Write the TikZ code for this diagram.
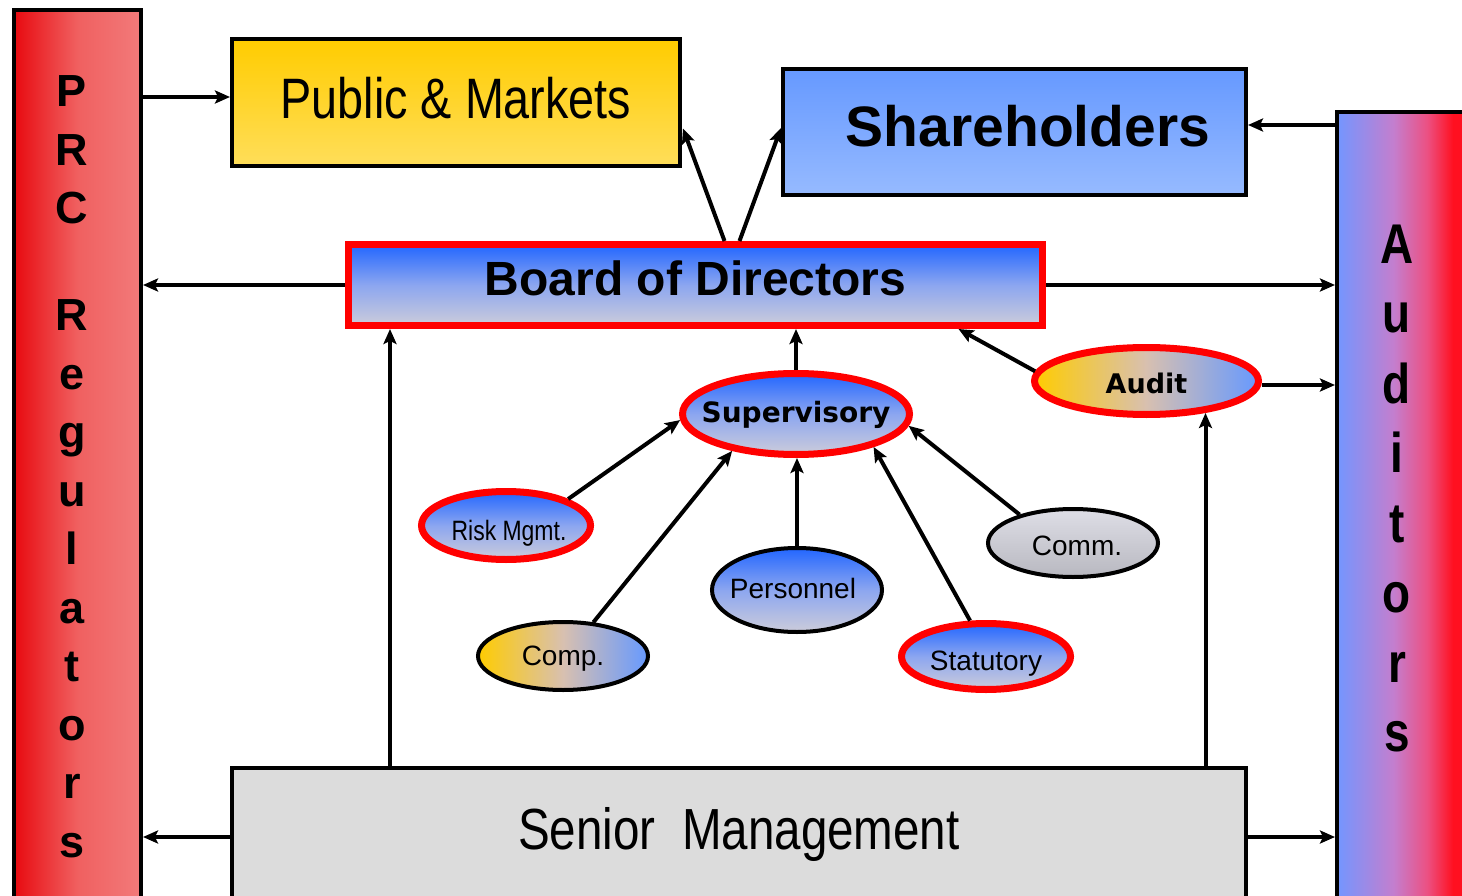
\documentclass[tikz,border=0pt]{standalone}
\usepackage{fontspec}
\setmainfont{Liberation Sans}
\newfontfamily\narrowfont{Liberation Sans}[FakeStretch=0.82]
\newfontfamily\heavyfont{DejaVu Sans}
\usetikzlibrary{shapes.geometric,arrows.meta,calc}

% palette
\definecolor{rim}{RGB}{255,0,0}
\definecolor{prcL}{RGB}{232,10,16}
\definecolor{prcM}{RGB}{240,96,96}
\definecolor{prcR}{RGB}{242,122,122}
\definecolor{pubT}{RGB}{255,204,0}
\definecolor{pubB}{RGB}{255,222,90}
\definecolor{shT}{RGB}{102,153,255}
\definecolor{shB}{RGB}{150,186,255}
\definecolor{audL}{RGB}{115,150,255}
\definecolor{audM}{RGB}{196,126,206}
\definecolor{audP}{RGB}{236,80,130}
\definecolor{audR}{RGB}{255,16,32}
\definecolor{bdT}{RGB}{34,102,255}
\definecolor{bdM}{RGB}{140,166,240}
\definecolor{bdB}{RGB}{204,204,218}
\definecolor{ylw}{RGB}{255,204,0}
\definecolor{mixM}{RGB}{216,192,176}
\definecolor{blu}{RGB}{102,153,255}
\definecolor{cmT}{RGB}{222,222,230}
\definecolor{cmB}{RGB}{184,184,192}
\definecolor{snr}{RGB}{220,220,220}

% blue-to-red band of the auditors column (25bp..75bp spans the shape)
\pgfdeclarehorizontalshading{audband}{100bp}{%
  color(0bp)=(audL); color(25bp)=(audL); color(47bp)=(audM);
  color(60bp)=(audP); color(70bp)=(audR); color(100bp)=(audR)}

% zero-width label so the ellipse keeps its given size
\newcommand\ovtext[1]{\makebox[0pt]{#1}}

\begin{document}
\begin{tikzpicture}[x=1pt,y=-1pt,
  box/.style={rectangle,draw=black,line width=4pt,inner sep=0pt},
  rimbox/.style={rectangle,draw=rim,line width=7pt,inner sep=0pt},
  oval/.style={ellipse,draw=black,line width=4pt,inner sep=0pt,text depth=0pt},
  rimoval/.style={ellipse,draw=rim,line width=7pt,inner sep=0pt,text depth=0pt},
  blueshade/.style={top color=bdT,bottom color=bdB,middle color=bdM},
  mixshade/.style={left color=ylw,right color=blu,middle color=mixM},
  ovfont/.style={font=\fontsize{28}{30}\selectfont},
  heavy/.style={font=\heavyfont\bfseries\fontsize{28}{30}\selectfont},
  arr/.style={line width=4pt,-{Stealth[length=15pt,width=13pt,inset=3pt]}},
  prcletter/.style={anchor=base,inner sep=0pt,font=\bfseries\fontsize{45}{45}\selectfont},
  audletter/.style={anchor=base,inner sep=0pt,font=\narrowfont\bfseries\fontsize{56}{56}\selectfont},
]
\useasboundingbox (0,0) rectangle (1462,896);
\clip (0,0) rectangle (1462,896);

% side columns
\node[box,minimum width=127pt,minimum height=900pt,
      left color=prcL,right color=prcR,middle color=prcM] (prc) at (77.5,460) {};
\node[box,minimum width=129pt,minimum height=798pt,shading=audband] (aud) at (1401.5,511) {};

\foreach \c/\y in {P/107,R/166,C/224,R/330,e/389,g/447,u/506,l/564,a/623,t/681,o/740,r/798,s/857}
  \node[prcletter] (prc-\y) at (72,\y) {\c};
\foreach \c/\y in {A/263,u/332,d/403,i/472,t/542,o/612,r/682,s/751}
  \node[audletter] (aud-\y) at (1397,\y) {\c};

% boxes
\node[box,minimum width=448pt,minimum height=127pt,top color=pubT,bottom color=pubB,
      text depth=10pt,font=\narrowfont\fontsize{57}{60}\selectfont] (pub) at (456,102.5) {Public \& Markets};
\node[box,minimum width=463pt,minimum height=126pt,top color=shT,bottom color=shB,
      text depth=12pt,font=\bfseries\fontsize{57}{60}\selectfont] (sh) at (1014.5,132) {\hspace*{27pt}Shareholders};
\node[rimbox,minimum width=694pt,minimum height=81pt,blueshade,
      text depth=14pt,font=\bfseries\fontsize{48}{50}\selectfont] (board) at (695.5,285) {Board of Directors};
\node[box,minimum width=1014pt,minimum height=132pt,fill=snr,
      font=\narrowfont\fontsize{58}{60}\selectfont] (sen) at (739,834) {Senior\ \ Management};

% committees (text height fixes each baseline below the centre)
\node[rimoval,minimum width=227pt,minimum height=81pt,blueshade,heavy,text height=16pt] (sup) at (796,414) {\ovtext{Supervisory}};
\node[rimoval,minimum width=224pt,minimum height=67pt,mixshade,text height=24pt,
      font=\heavyfont\bfseries\fontsize{27}{30}\selectfont] (audit) at (1146.5,381) {\ovtext{Audit}};
\node[rimoval,minimum width=169pt,minimum height=68pt,blueshade,text height=29pt,
      font=\narrowfont\fontsize{28}{30}\selectfont] (risk) at (506,525.5) {\ovtext{\hspace*{6pt}Risk Mgmt.}};
\node[oval,minimum width=170pt,minimum height=84pt,blueshade,ovfont,text height=17pt] (pers) at (797,590) {\ovtext{\hspace*{-8pt}Personnel}};
\node[oval,minimum width=170pt,minimum height=68pt,top color=cmT,bottom color=cmB,ovfont,text height=25pt] (comm) at (1073,543) {\ovtext{\hspace*{8pt}Comm.}};
\node[oval,minimum width=170pt,minimum height=68pt,mixshade,ovfont,text height=19pt] (comp) at (563,656) {\ovtext{Comp.}};
\node[rimoval,minimum width=169pt,minimum height=66pt,blueshade,ovfont,text height=27pt] (stat) at (986,656.5) {\ovtext{Statutory}};

% reporting lines
\coordinate (pubIn) at ($(pub.west)+(0,-5.5)$);
\draw[arr] (prc.east |- pubIn) -- (pubIn);
\draw[arr] (board.west) -- (prc.east |- board.west);
\draw[arr] ($(board.north)+(29,0)$) -- ($(pub.east)+(1,26)$);
\draw[arr] ($(board.north)+(44,0)$) -- ($(sh.west)+(0,-4)$);
\coordinate (shIn) at ($(sh.east)+(0,-7)$);
\draw[arr] (aud.west |- shIn) -- (shIn);
\draw[arr] (board.east) -- (aud.west |- board.east);
\draw[arr] (audit.175) -- ($(board.south)+(263,0)$);
\coordinate (auOut) at ($(audit.east)+(0,4)$);
\draw[arr] (auOut) -- (aud.west |- auOut);
\coordinate (snOut) at ($(sen.east)+(0,3)$);
\draw[arr] (snOut) -- (aud.west |- snOut);
\coordinate (snLeft) at ($(sen.west)+(0,3)$);
\draw[arr] (snLeft) -- (prc.east |- snLeft);
\coordinate (bdFoot) at ($(board.south west)+(45,0)$);
\draw[arr] (sen.north -| bdFoot) -- (bdFoot);
\coordinate (auFoot) at ($(audit.south)+(59,-5)$);
\draw[arr] (sen.north -| auFoot) -- (auFoot);
\draw[arr] (sup.north) -- (board.south -| sup.north);
\draw[arr] (risk.north east) -- (sup.183);
\draw[arr] (comp.48) -- (sup.210);
\draw[arr] (pers.north) -- (pers.north |- sup.south);
\draw[arr] (stat.114) -- (sup.-23.5);
\draw[arr] (comm.152) -- (sup.-6.5);
\end{tikzpicture}
\end{document}
